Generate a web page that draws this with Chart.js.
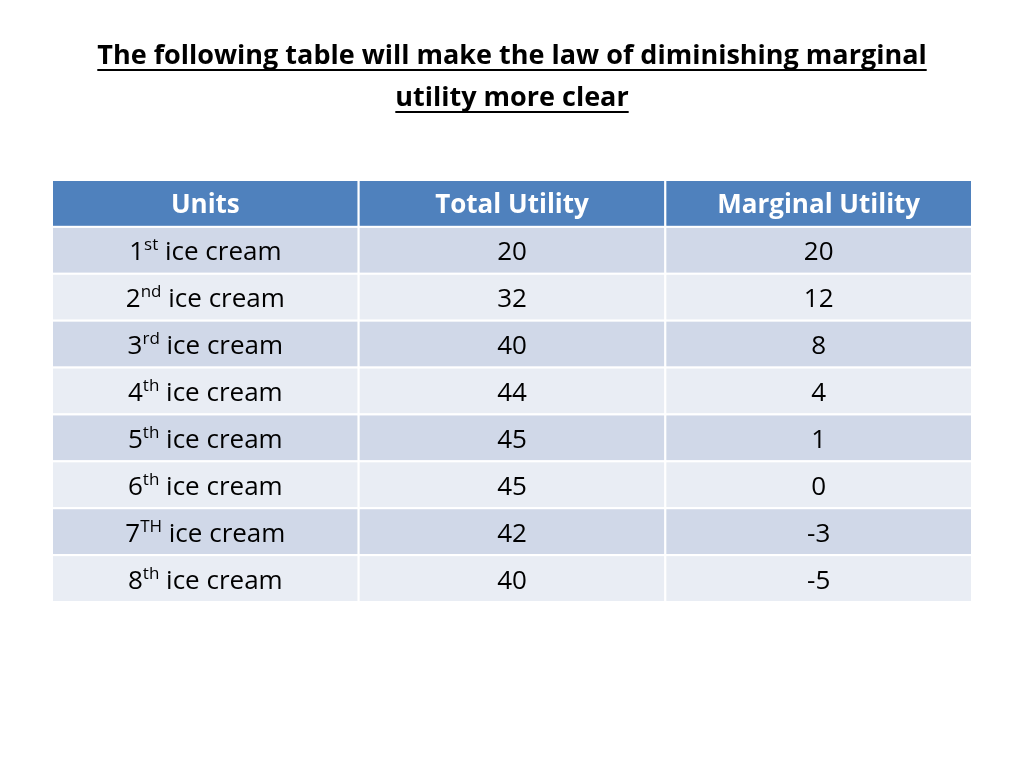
<!DOCTYPE html>
<html><head><meta charset="utf-8">
<script src="https://cdn.jsdelivr.net/npm/chart.js@4"></script>
<style>html,body{margin:0;padding:0;background:#fff}#wrap{width:1024px;height:768px}</style>
</head><body><div id="wrap"><canvas id="c" width="1024" height="768"></canvas></div>
<script>
const titleLines = ["The following table will make the law of diminishing marginal", "utility more clear"];
const headers = ["Units", "Total Utility", "Marginal Utility"];
const unitNumbers = ["1", "2", "3", "4", "5", "6", "7", "8"];
const unitSuffixes = ["st", "nd", "rd", "th", "th", "th", "TH", "th"];
const unitNoun = " ice cream";
const totalUtility = [20, 32, 40, 44, 45, 45, 42, 40];
const marginalUtility = [20, 12, 8, 4, 1, 0, -3, -5];

const FONT = "'Open Sans', 'Liberation Sans', sans-serif";
const cellPoints = [];
for (let r = 0; r < unitNumbers.length + 1; r++) for (let c = 0; c < headers.length; c++) cellPoints.push({x: c + 0.5, y: r + 0.5});

const tablePlugin = {
  id: 'table',
  afterDatasetsDraw(chart) {
    const ctx = chart.ctx, xs = chart.scales.x, ys = chart.scales.y;
    ctx.save();
    // title
    ctx.fillStyle = '#000'; ctx.font = "bold 27px " + FONT; ctx.textAlign = 'center'; ctx.textBaseline = 'alphabetic';
    const tY = [64, 106];
    titleLines.forEach((t, i) => {
      ctx.fillText(t, 512, tY[i]);
      const w = ctx.measureText(t).width;
      ctx.fillRect(512 - w / 2, tY[i] + 5, w, 2);
    });
    const nRows = unitNumbers.length + 1;
    for (let r = 0; r < nRows; r++) {
      const y0 = ys.getPixelForValue(r), y1 = ys.getPixelForValue(r + 1);
      for (let c = 0; c < headers.length; c++) {
        const x0 = xs.getPixelForValue(c), x1 = xs.getPixelForValue(c + 1);
        ctx.fillStyle = r === 0 ? '#4F81BD' : (r % 2 === 1 ? '#D0D8E8' : '#E9EDF4');
        ctx.fillRect(x0, y0, x1 - x0, y1 - y0);
        ctx.strokeStyle = '#fff'; ctx.lineWidth = 2;
        ctx.strokeRect(x0, y0, x1 - x0, y1 - y0);
        const cx = (x0 + x1) / 2, cy = (y0 + y1) / 2 + 10;
        ctx.textAlign = 'center';
        if (r === 0) {
          ctx.fillStyle = '#fff'; ctx.font = "bold 26px " + FONT;
          ctx.fillText(headers[c], cx, cy);
        } else {
          ctx.fillStyle = '#000'; ctx.font = "26px " + FONT;
          const i = r - 1;
          if (c === 0) {
            const big = "26px " + FONT, small = "17px " + FONT;
            ctx.font = big; const w1 = ctx.measureText(unitNumbers[i]).width, w3 = ctx.measureText(unitNoun).width;
            ctx.font = small; const w2 = ctx.measureText(unitSuffixes[i]).width;
            let x = cx - (w1 + w2 + w3) / 2;
            ctx.textAlign = 'left';
            ctx.font = big; ctx.fillText(unitNumbers[i], x, cy); x += w1;
            ctx.font = small; ctx.fillText(unitSuffixes[i], x, cy - 10); x += w2;
            ctx.font = big; ctx.fillText(unitNoun, x, cy);
          } else {
            ctx.fillText(String(c === 1 ? totalUtility[i] : marginalUtility[i]), cx, cy);
          }
        }
      }
    }
    ctx.restore();
  }
};

new Chart(document.getElementById('c'), {
  type: 'scatter',
  data: { datasets: [{ data: cellPoints, pointRadius: 0, pointHoverRadius: 0 }] },
  options: {
    responsive: false, animation: false, events: [],
    layout: { padding: { left: 52, right: 52, top: 180, bottom: 166 } },
    plugins: { legend: { display: false }, tooltip: { enabled: false } },
    scales: {
      x: { type: 'linear', min: 0, max: headers.length, display: false },
      y: { type: 'linear', min: 0, max: unitNumbers.length + 1, reverse: true, display: false }
    }
  },
  plugins: [tablePlugin]
});
</script></body></html>
